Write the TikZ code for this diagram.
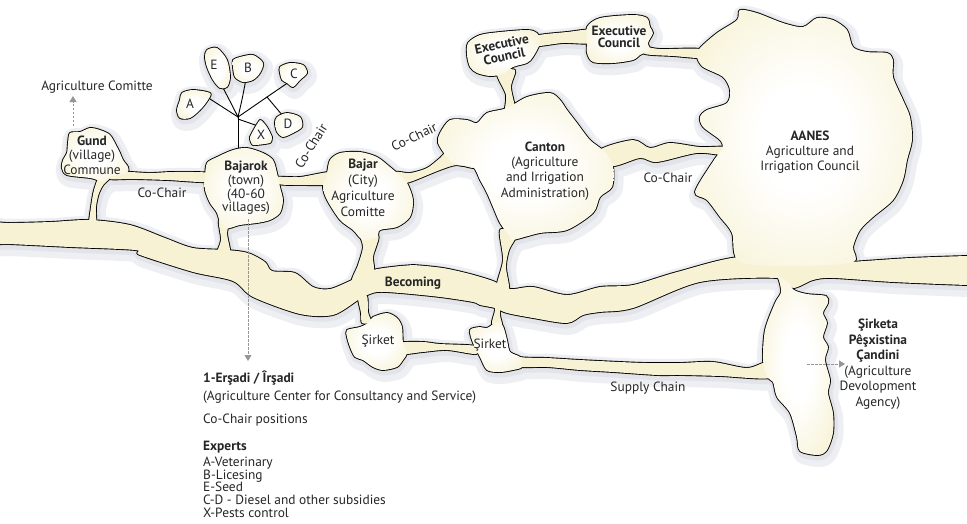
\documentclass[tikz,border=0pt]{standalone}
\usepackage{fontspec}
\setmainfont{PT Sans}
\usetikzlibrary{arrows.meta}
\definecolor{cream}{RGB}{247,242,212}
\definecolor{shad}{RGB}{226,228,233}
\definecolor{garrow}{RGB}{150,150,150}
\pgfdeclareradialshading{blobshade}{\pgfpoint{0bp}{0bp}}{color(0bp)=(white); color(10bp)=(white); color(33bp)=(cream); color(50bp)=(cream)}
\newcommand\fs{13.4}
\newcommand\allchans{%
% main band
\path[chan] plot[smooth cycle, tension=0.5] coordinates {(-20,222) (8,223) (50,222) (90,220) (130,225) (165,238) (193,248) (227,250) (248,253) (265,262) (272,271) (295,273) (313,287) (330,289) (352,280) (373,270) (400,266) (413,265) (443,268) (470,274) (493,281) (510,289) (533,287) (567,295) (600,287) (633,285) (677,272) (740,257) (800,265) (850,262) (910,258) (967,256) (990,256) (990,285) (967,285) (893,282) (833,278) (813,280) (793,288) (777,278) (700,282) (633,308) (600,312) (583,315) (567,323) (533,318) (507,313) (495,308) (480,305) (473,302) (440,297) (400,293) (377,292) (363,297) (358,300) (333,315) (300,314) (253,297) (233,281) (193,272) (140,255) (135,250) (70,247) (8,244) (-20,244)};
% supply chain
\path[chan] plot[smooth cycle, tension=0.5] coordinates {(505,350) (520,357) (547,358) (580,360) (620,362) (647,363) (680,363) (713,362) (747,368) (768,362) (770,378) (720,376) (680,375) (657,375) (613,372) (580,370) (547,367) (520,367) (505,362)};
% sirket channels
\path[chan] plot[smooth cycle, tension=0.5] coordinates {(358,296) (361,313) (362,323) (371,322) (368,312) (367,296)};
\path[chan] plot[smooth cycle, tension=0.5] coordinates {(400,343) (423,342) (440,344) (476,346) (476,354) (447,350) (423,352) (400,354)};
\path[chan] plot[smooth cycle, tension=0.5] coordinates {(493,300) (495,310) (492,324) (502,326) (500,315) (500,300)};
% Gund channels
\path[chan] plot[smooth cycle, tension=0.5] coordinates {(100,176) (94,190) (91,207) (89,226) (96,226) (96,207) (99,193) (104,184) (112,176)};
\path[chan] plot[smooth cycle, tension=0.5] coordinates {(120,172) (150,173) (173,172) (210,173) (210,182) (167,180) (133,179) (110,179)};
% Bajarok channels
\path[chan] plot[smooth cycle, tension=0.5] coordinates {(219,220) (221,240) (217,254) (230,254) (227,233) (230,220)};
\path[chan] plot[smooth cycle, tension=0.5] coordinates {(275,177) (300,177) (332,172) (332,184) (300,185) (278,184)};
% Bajar channels
\path[chan] plot[smooth cycle, tension=0.5] coordinates {(360,232) (363,247) (358,265) (352,282) (373,275) (373,257) (376,247) (378,235)};
\path[chan] plot[smooth cycle, tension=0.5] coordinates {(395,172) (410,173) (427,168) (440,158) (450,150) (470,160) (474,168) (457,165) (440,170) (410,182) (398,183)};
% Canton channels
\path[chan] plot[smooth cycle, tension=0.5] coordinates {(500,230) (503,260) (497,286) (509,290) (506,267) (509,250) (516,235)};
\path[chan] plot[smooth cycle, tension=0.5] coordinates {(497,73) (506,95) (505,112) (515,110) (511,87) (515,70)};
% executive channels
\path[chan] plot[smooth cycle, tension=0.5] coordinates {(535,36) (567,32) (592,30) (592,43) (563,43) (535,46)};
\path[chan] plot[smooth cycle, tension=0.5] coordinates {(640,46) (660,49) (700,49) (705,58) (673,56) (645,54)};
% Canton - AANES channel
\path[chan] plot[smooth cycle, tension=0.5] coordinates {(600,150) (633,140) (650,148) (670,143) (700,147) (725,147) (725,155) (697,153) (657,162) (640,158) (612,166)};
}
\newcommand\allblobs{%
% strip (Sirketa)
\path[blob] plot[smooth cycle, tension=0.5] coordinates {(772,272) (788,282) (794,290) (807,294) (826,296) (828,303) (823,313) (827,323) (823,337) (828,347) (825,360) (830,380) (828,393) (833,413) (833,433) (827,450) (818,455) (800,451) (797,437) (790,413) (777,397) (773,382) (767,377) (763,360) (765,330) (775,303) (781,292) (778,278)};
% sirket 1 and 2
\path[blob] plot[smooth cycle, tension=0.5] coordinates {(347,330) (360,327) (368,323) (373,317) (387,313) (397,318) (402,327) (403,343) (407,353) (403,360) (397,367) (383,370) (373,367) (363,360) (355,357) (350,347) (347,337)};
\path[blob] plot[smooth cycle, tension=0.5] coordinates {(470,330) (480,327) (487,328) (497,322) (503,326) (507,340) (510,352) (520,357) (522,367) (513,370) (500,372) (487,370) (480,357) (473,343)};
% Gund
\path[blob] plot[smooth cycle, tension=0.5] coordinates {(70,133) (80,132) (90,128) (100,130) (110,135) (117,147) (120,153) (123,160) (128,167) (127,173) (110,177) (103,182) (97,180) (90,178) (67,175) (62,168) (63,160) (67,153) (68,143)};
% Bajarok
\path[blob] plot[smooth cycle, tension=0.5] coordinates {(207,163) (217,157) (233,150) (247,148) (263,153) (273,160) (277,173) (280,187) (283,200) (280,213) (270,220) (257,223) (240,225) (230,228) (222,228) (217,213) (210,203) (205,190) (205,177)};
% Bajar
\path[blob] plot[smooth cycle, tension=0.5] coordinates {(330,160) (340,153) (360,152) (377,157) (390,167) (397,173) (407,183) (413,200) (410,217) (397,227) (380,230) (377,237) (363,240) (353,230) (340,220) (327,200) (323,187) (327,173)};
% Canton
\path[blob] plot[smooth cycle, tension=0.5] coordinates {(440,133) (450,120) (467,120) (477,123) (487,113) (507,108) (527,97) (550,93) (560,100) (567,110) (577,123) (590,140) (605,152) (613,167) (612,187) (600,197) (593,213) (567,230) (540,233) (513,240) (510,237) (500,223) (493,207) (487,193) (480,180) (473,167) (457,165) (447,157) (438,143)};
% Executive council 1 and 2
\path[blob] plot[smooth cycle, tension=0.5] coordinates {(468,43) (480,35) (500,32) (527,30) (537,33) (540,43) (533,57) (527,63) (513,67) (503,74) (490,76) (477,73) (470,67) (467,55)};
\path[blob] plot[smooth cycle, tension=0.5] coordinates {(587,27) (600,18) (633,15) (647,18) (650,27) (653,33) (648,43) (650,50) (640,55) (633,60) (613,63) (593,62) (587,53) (587,42)};
% AANES
\path[blob] plot[smooth cycle, tension=0.5] coordinates {(740,10) (757,13) (783,23) (803,27) (817,18) (833,20) (847,30) (853,47) (867,52) (887,53) (893,60) (893,77) (903,100) (910,117) (912,140) (907,160) (903,180) (893,200) (873,217) (860,230) (853,247) (853,262) (800,266) (740,262) (732,233) (720,217) (707,200) (695,192) (712,163) (720,152) (723,148) (720,140) (703,127) (700,117) (707,110) (727,103) (730,90) (723,77) (703,67) (697,57) (700,48) (717,33) (737,20)};
% experts
\path[blob] plot[smooth cycle, tension=0.5] coordinates {(207,50) (217,48) (227,60) (230,77) (227,87) (220,88) (213,80) (207,67) (205,57)};
\path[blob] plot[smooth cycle, tension=0.5] coordinates {(233,60) (240,57) (253,55) (263,63) (260,73) (253,80) (243,82) (235,77) (233,67)};
\path[blob] plot[smooth cycle, tension=0.5] coordinates {(280,67) (290,63) (303,65) (307,73) (300,80) (293,87) (287,83) (282,80) (280,73)};
\path[blob] plot[smooth cycle, tension=0.5] coordinates {(182,93) (193,90) (210,93) (208,100) (200,110) (190,118) (180,118) (177,110) (180,100)};
\path[blob] plot[smooth cycle, tension=0.5] coordinates {(277,117) (287,113) (300,117) (302,127) (293,133) (283,137) (277,132) (275,123)};
\path[blob] plot[smooth cycle, tension=0.3] coordinates {(250,137) (260,120) (267,127) (272,137) (270,143) (253,145)};
}
\begin{document}
\begin{tikzpicture}[x=1pt,y=-1pt, font=\fontsize{\fs}{14}\selectfont,
  garr/.style={draw=garrow, line width=1pt, dash pattern=on 2.5pt off 1.5pt, -{Triangle[width=7pt,length=6pt]}},
  twig/.style={draw=black, line width=0.9pt, line cap=round},
  lbl/.style={inner sep=0pt, text=black!85, align=center}]
\useasboundingbox (0,0) rectangle (967,523);
\fill[white] (0,0) rectangle (967,523);
\begin{scope}
\clip (0,0) rectangle (967,523);
% soft shadow
\begin{scope}[shift={(2,4)}, blob/.style={draw=shad!60, fill=shad!60, line width=16pt, line join=round}, chan/.style={blob}]
\allchans \allblobs
\end{scope}
\begin{scope}[shift={(1,2)}, blob/.style={draw=shad, fill=shad, line width=7pt, line join=round}, chan/.style={blob}]
\allchans \allblobs
\end{scope}
% outline pass
\begin{scope}[blob/.style={draw=black, fill=black, line width=1.8pt, line join=round}, chan/.style={blob}]
\allchans \allblobs
\end{scope}
% tree twigs
\coordinate (tk0) at (238,155);
\coordinate (tk1) at (238,117);
\coordinate (tk2) at (238,119);
\coordinate (tC) at (267,97);
\coordinate (eE) at (221,84);
\coordinate (eA) at (207,97);
\coordinate (eB) at (246,79);
\coordinate (eC) at (289,82);
\coordinate (eD) at (283,116);
\coordinate (eX) at (258,126);
\draw[twig] (tk0) -- (tk1);
\draw[twig] (tk1) .. controls (232,105) .. (eE);
\draw[twig] (tk1) -- (eA);
\draw[twig] (tk1) .. controls (242,100) .. (eB);
\draw[twig] (tk1) -- (tC) -- (eC);
\draw[twig] (tC) -- (eD);
\draw[twig] (tk2) -- (eX);
% fill pass: channels first, blobs on top
\begin{scope}[blob/.style={shading=blobshade}, chan/.style={fill=cream}]
\allchans \allblobs
\end{scope}
\end{scope}
% arrows
\coordinate (ga0) at (73,126);
\coordinate (ga1) at (73,96);
\draw[garr] (ga0) -- (ga1);
\coordinate (ba0) at (248,219);
\coordinate (ba1) at (248,361);
\draw[garr] (ba0) -- (ba1);
\coordinate (sa0) at (807,364);
\coordinate (sa1) at (845,364);
\draw[garr] (sa0) -- (sa1);
% labels
\node[lbl] (agc) at (97,87) {Agriculture Comitte};
\node[lbl, font=\fontsize{\fs}{14.5}\selectfont] (gund) at (92,155) {\textbf{Gund}\\(village)\\Commune};
\node[lbl] (cc1) at (162,193) {Co-Chair};
\node[lbl, font=\fontsize{\fs}{13.7}\selectfont] (bajarok) at (246,188) {\textbf{Bajarok}\\(town)\\(40-60\\villages)};
\node[lbl, rotate=58] (cc2) at (311,146) {Co-Chair};
\node[lbl, font=\fontsize{\fs}{16.2}\selectfont] (bajar) at (363,188) {\textbf{Bajar}\\(City)\\Agriculture\\Comitte};
\node[lbl, rotate=26] (cc3) at (414,137) {Co-Chair};
\node[lbl, font=\fontsize{\fs}{15.3}\selectfont] (canton) at (545,171) {\textbf{Canton}\\(Agriculture\\and Irrigation\\Administration)};
\node[lbl, rotate=12, font=\bfseries\fontsize{\fs}{12.5}\selectfont] (ex1) at (503,50) {Executive\\Council};
\node[lbl, font=\bfseries\fontsize{\fs}{12.5}\selectfont] (ex2) at (619,37) {Executive\\Council};
\node[lbl] (cc4) at (668,178) {Co-Chair};
\node[lbl, font=\fontsize{\fs}{15}\selectfont] (aanes) at (810,152) {\textbf{AANES}\\Agriculture and\\Irrigation Council};
\node[lbl, font=\bfseries\fontsize{\fs}{14}\selectfont] (becoming) at (413,283) {Becoming};
\node[lbl] (sk1) at (378,341) {Şirket};
\node[lbl] (sk2) at (490,345) {Şirket};
\node[lbl] (supply) at (648,388) {Supply Chain};
\node[lbl, font=\fontsize{\fs}{15.5}\selectfont] (spc) at (878,364) {\textbf{Şirketa}\\\textbf{Pêşxistina}\\\textbf{Çandini}\\(Agriculture\\Devolopment\\Agency)};
\node[lbl] (xA) at (190,104) {A};
\node[lbl] (xE) at (214,65) {E};
\node[lbl] (xB) at (248,68) {B};
\node[lbl] (xC) at (294,74) {C};
\node[lbl] (xD) at (288,124) {D};
\node[lbl] (xX) at (261,135) {X};
% bottom block
\node[lbl, anchor=west, font=\bfseries\fontsize{\fs}{14}\selectfont] (ersadi) at (203,378) {1-Erşadi / Îrşadi};
\node[lbl, anchor=west] (acc) at (203,397) {(Agriculture Center for Consultancy and Service)};
\node[lbl, anchor=west] (ccp) at (203,420) {Co-Chair positions};
\node[lbl, anchor=west, font=\bfseries\fontsize{\fs}{14}\selectfont] (experts) at (203,447) {Experts};
\node[lbl, anchor=north west, align=left, font=\fontsize{\fs}{12.6}\selectfont] (list) at (203,457) {A-Veterinary\\B-Licesing\\E-Seed\\C-D - Diesel and other subsidies\\X-Pests control};
\end{tikzpicture}
\end{document}
